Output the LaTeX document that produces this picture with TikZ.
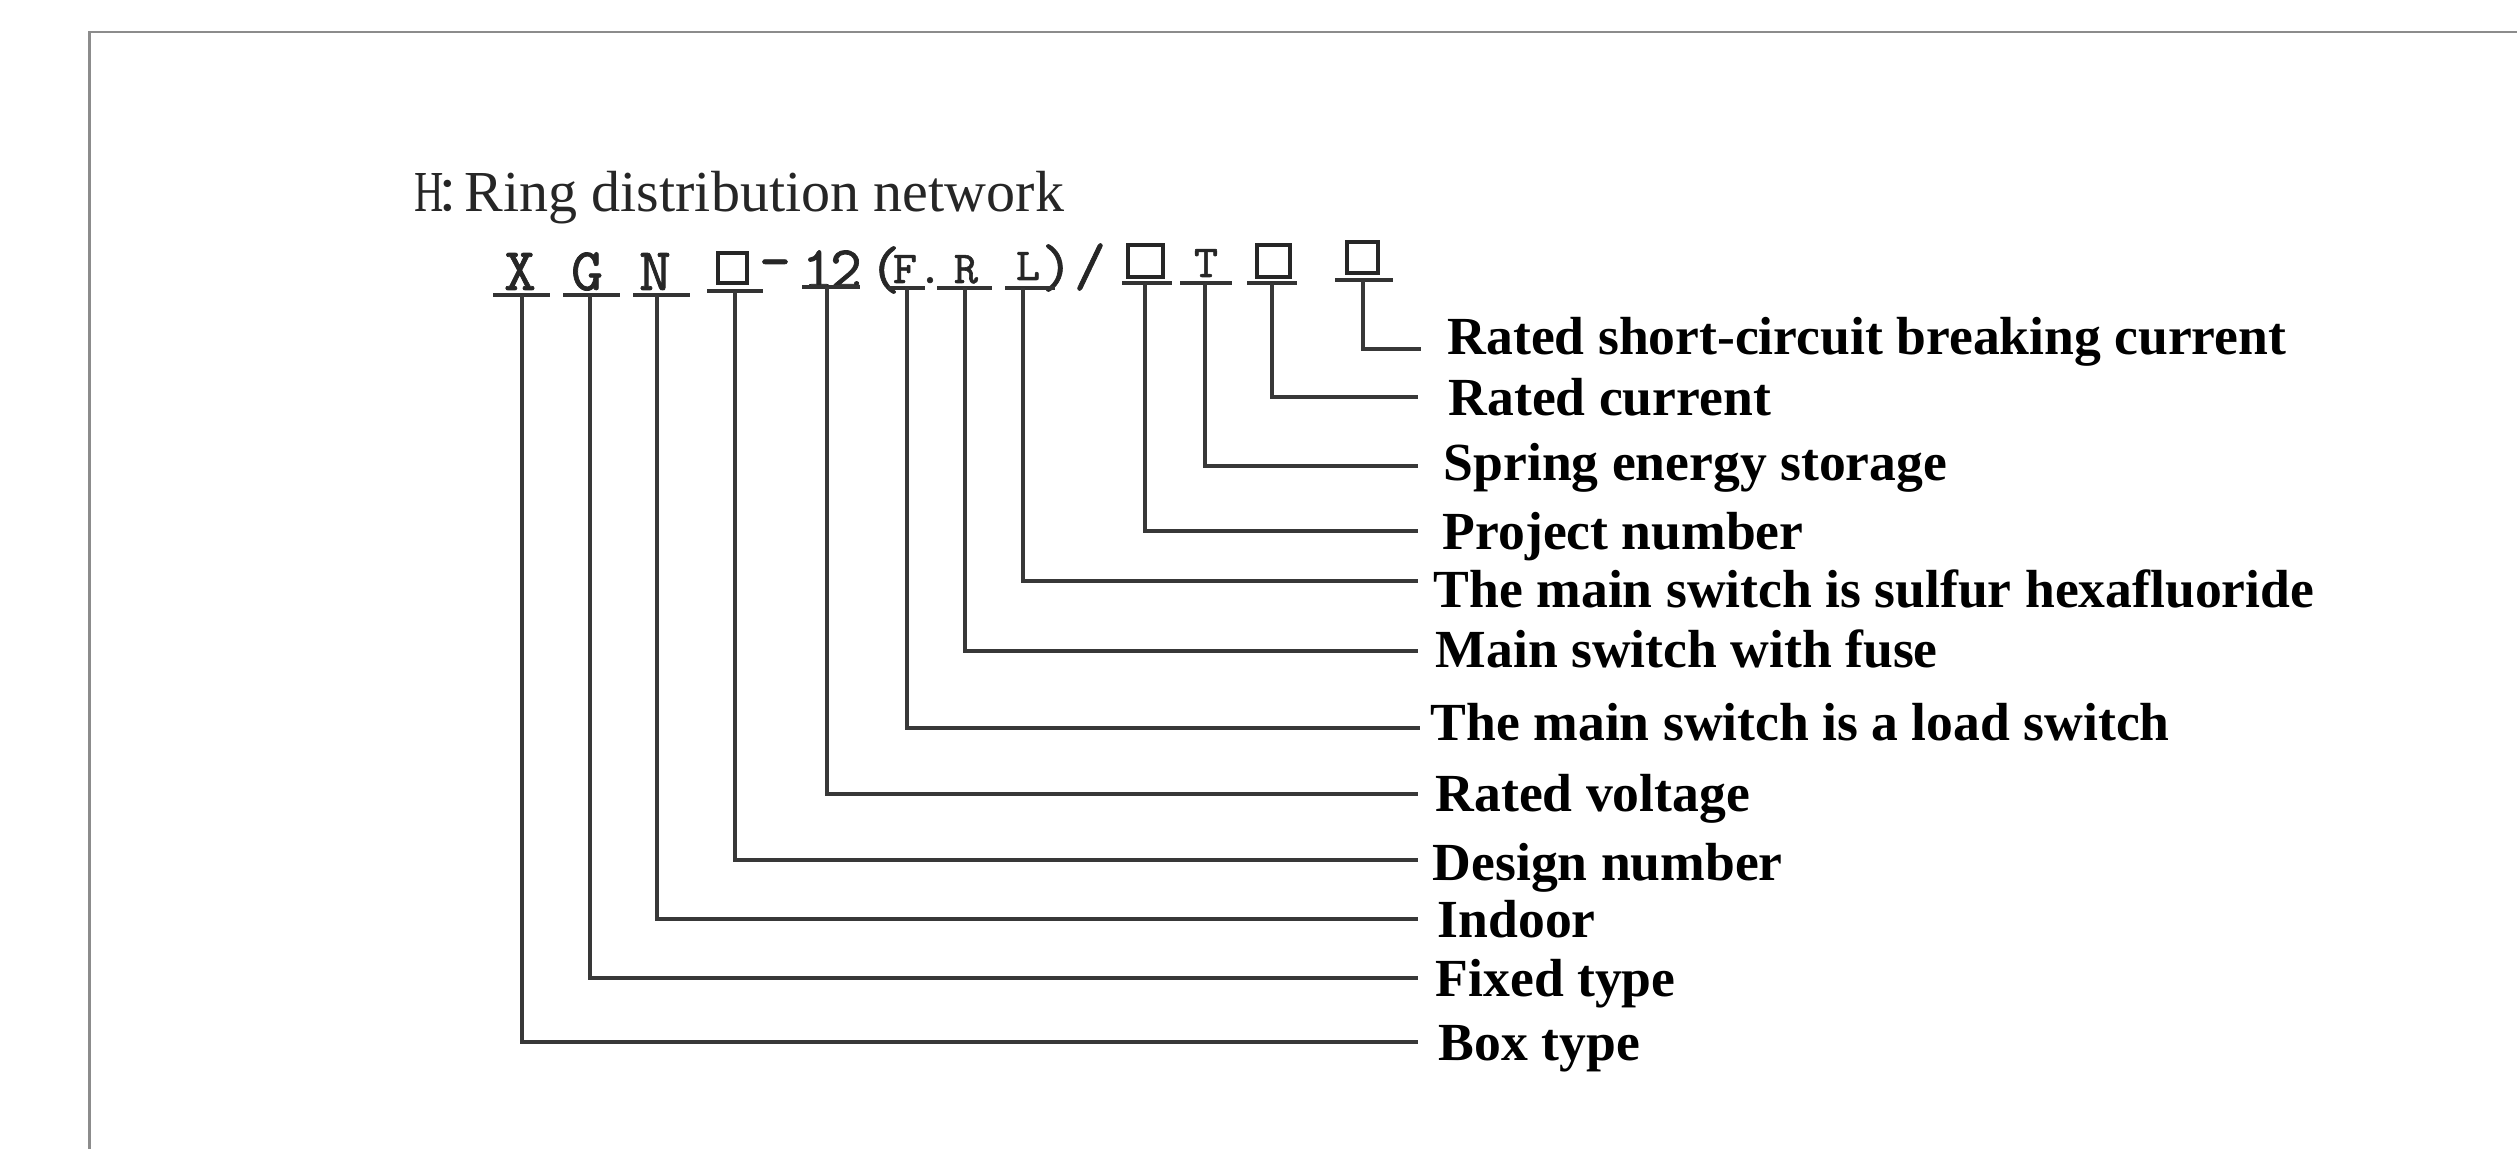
\documentclass[tikz,border=0pt]{standalone}
\usepackage{fontspec}
\setmainfont{Liberation Serif}
\newfontfamily\cjkfont{Noto Sans CJK SC}
\newfontfamily\codefont{lmmono10-regular.otf}[FakeBold=1.2]
\begin{document}
\begin{tikzpicture}[x=0.01cm,y=-0.01cm,
  frame/.style={draw=black!45, line width=0.6pt},
  conn/.style={draw=black!78, line width=0.95pt},
  ul/.style={draw=black!80, line width=0.95pt},
  boxc/.style={draw=black!85, line width=0.9pt, inner sep=0pt},
  bigc/.style={font=\codefont\fontsize{17.2pt}{20pt}\selectfont, anchor=base, inner sep=0pt, text=black!85},
  smc/.style={font=\codefont\fontsize{13pt}{16pt}\selectfont, anchor=base, inner sep=0pt, text=black!85},
  punc/.style={font=\codefont\fontsize{17.2pt}{20pt}\selectfont, anchor=center, inner sep=0pt, text=black!85},
  lab/.style={font=\fontsize{15.25pt}{18pt}\selectfont\bfseries, anchor=base west, inner sep=0pt},
  titlec/.style={font=\fontsize{16.5pt}{19pt}\selectfont, anchor=base west, inner sep=0pt, text=black!85}]
\useasboundingbox (0,0) rectangle (2517,1149);
\fill[white] (0,0) rectangle (2517,1149);
\draw[frame] (89.5,1149) -- (89.5,32) -- (2517,32);

% title
\node[titlec] (title) at (414,212) {\scalebox{0.7}[1]{H}\kern-2.5pt{\cjkfont\fontsize{14pt}{17pt}\selectfont ：}\kern-5.7pt\relax Ring distribution network};

% code characters
\node[bigc] (cX) at (520,290) {X};
\node[bigc] (cG) at (587,290) {G};
\node[bigc] (cN) at (655,290) {N};
\node[boxc, minimum width=0.29cm, minimum height=0.30cm] (b1) at (732.5,268) {};
\node[punc] (cdash) at (775,270) {-};
\node[bigc] (c1) at (818,288) {1};
\node[bigc] (c2) at (846,288) {2};
\node[punc] (lp) at (885,270) {(};
\node[smc] (cF) at (905,283) {F};
\node[smc] (cdot) at (930,283) {.};
\node[smc] (cR) at (966,283) {R};
\node[smc] (cL) at (1028,280) {L};
\node[punc] (rp) at (1057,268) {)};
\node[punc] (sl) at (1090,267) {/};
\node[boxc, minimum width=0.35cm, minimum height=0.32cm] (b2) at (1145.5,261) {};
\node[smc] (cT) at (1206,277) {T};
\node[boxc, minimum width=0.33cm, minimum height=0.32cm] (b3) at (1273.5,261) {};
\node[boxc, minimum width=0.31cm, minimum height=0.31cm] (b4) at (1362.5,257.5) {};

% underlines
\draw[ul] (493,295) -- (550,295);
\draw[ul] (563,295) -- (620,295);
\draw[ul] (633,295) -- (690,295);
\draw[ul] (707,291) -- (763,291);
\draw[ul] (802,287) -- (860,287);
\draw[ul] (888,288) -- (925,288);
\draw[ul] (937,288) -- (992,288);
\draw[ul] (1005,288) -- (1055,288);
\draw[ul] (1122,283) -- (1172,283);
\draw[ul] (1180,283) -- (1232,283);
\draw[ul] (1247,283) -- (1297,283);
\draw[ul] (1335,280) -- (1393,280);

% connector start points (under each item)
\coordinate (uX) at (522,295);
\coordinate (uG) at (590,295);
\coordinate (uN) at (657,295);
\coordinate (uB1) at (735,291);
\coordinate (u12) at (827,287);
\coordinate (uF) at (907,288);
\coordinate (uR) at (965,288);
\coordinate (uL) at (1023,288);
\coordinate (uB2) at (1145,283);
\coordinate (uT) at (1205,283);
\coordinate (uB3) at (1272,283);
\coordinate (uB4) at (1363,280);

% connector end points
\coordinate (e1) at (1421,349);
\coordinate (e2) at (1418,397);
\coordinate (e3) at (1418,466);
\coordinate (e4) at (1418,531);
\coordinate (e5) at (1418,581);
\coordinate (e6) at (1418,651);
\coordinate (e7) at (1420,728);
\coordinate (e8) at (1418,794);
\coordinate (e9) at (1418,860);
\coordinate (e10) at (1418,919);
\coordinate (e11) at (1418,978);
\coordinate (e12) at (1418,1042);

% labels
\node[lab] (l1) at (1447,355) {Rated short-circuit breaking current};
\node[lab] (l2) at (1448,416) {Rated current};
\node[lab] (l3) at (1443,481) {Spring energy storage};
\node[lab] (l4) at (1442,550) {Project number};
\node[lab] (l5) at (1433,608) {The main switch is sulfur hexafluoride};
\node[lab] (l6) at (1435,668) {Main switch with fuse};
\node[lab] (l7) at (1430,741) {The main switch is a load switch};
\node[lab] (l8) at (1435,811) {Rated voltage};
\node[lab] (l9) at (1432,880) {Design number};
\node[lab] (l10) at (1437,937) {Indoor};
\node[lab] (l11) at (1435,996) {Fixed type};
\node[lab] (l12) at (1438,1060) {Box type};

% connectors
\draw[conn] (uB4) |- (e1);
\draw[conn] (uB3) |- (e2);
\draw[conn] (uT) |- (e3);
\draw[conn] (uB2) |- (e4);
\draw[conn] (uL) |- (e5);
\draw[conn] (uR) |- (e6);
\draw[conn] (uF) |- (e7);
\draw[conn] (u12) |- (e8);
\draw[conn] (uB1) |- (e9);
\draw[conn] (uN) |- (e10);
\draw[conn] (uG) |- (e11);
\draw[conn] (uX) |- (e12);
\end{tikzpicture}
\end{document}
